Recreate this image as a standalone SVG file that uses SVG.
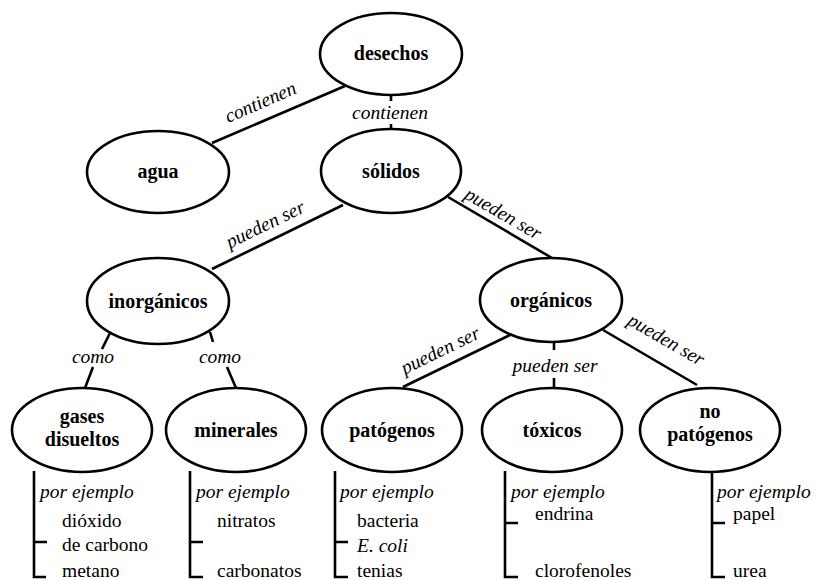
<svg xmlns="http://www.w3.org/2000/svg" width="823" height="580" viewBox="0 0 823 580">
<style>
.n ellipse{fill:#fff;stroke:#000;stroke-width:2.6}
.n text{font-family:"Liberation Serif",serif;font-weight:bold;font-size:20px;text-anchor:middle;fill:#000}
.c line,.c path{stroke:#000;stroke-width:2.6;fill:none}
.lb{font-family:"Liberation Serif",serif;font-style:italic;font-size:19.5px;fill:#000}
.ex{font-family:"Liberation Serif",serif;font-size:19.5px;fill:#000}
.mid{text-anchor:middle}
</style>
<rect width="823" height="580" fill="#fff"/>
<g class="c" id="connectors">
<line x1="345" y1="86" x2="212" y2="143"/>
<line x1="391" y1="95" x2="391" y2="101"/>
<line x1="391" y1="124" x2="391" y2="129"/>
<line x1="343" y1="205" x2="212" y2="269"/>
<line x1="448" y1="197" x2="552" y2="258"/>
<line x1="110" y1="333" x2="102" y2="349"/>
<line x1="93" y1="367" x2="85" y2="388"/>
<line x1="210" y1="332" x2="213" y2="342"/>
<line x1="227" y1="367" x2="236" y2="388"/>
<line x1="510" y1="335" x2="403" y2="387"/>
<line x1="554" y1="342" x2="554" y2="350"/>
<line x1="554" y1="378" x2="554" y2="388"/>
<line x1="603" y1="330" x2="697" y2="385"/>
<path d="M34 471 V577 H46 M34 542 H47"/>
<path d="M190 471 V577 H203 M190 542 H203"/>
<path d="M335 471 V577 H348 M335 542 H348"/>
<path d="M505 471 V577 H518 M505 523 H518"/>
<path d="M712 471 V577 H725 M712 523 H725"/>
<text class="lb mid" transform="translate(263,108) rotate(-23.5)">contienen</text>
<text class="lb mid" x="390" y="119">contienen</text>
<text class="lb mid" transform="translate(268,230) rotate(-26)">pueden ser</text>
<text class="lb mid" transform="translate(500,219) rotate(30)">pueden ser</text>
<text class="lb mid" x="93" y="363">como</text>
<text class="lb mid" x="220" y="363">como</text>
<text class="lb mid" transform="translate(443,356) rotate(-26)">pueden ser</text>
<text class="lb mid" x="555" y="372">pueden ser</text>
<text class="lb mid" transform="translate(663,345) rotate(30)">pueden ser</text>
</g>
<g class="n" id="desechos"><ellipse cx="391" cy="54" rx="71" ry="41"/><text x="391" y="60">desechos</text></g>
<g class="n" id="agua"><ellipse cx="158" cy="172" rx="71" ry="41"/><text x="158" y="178">agua</text></g>
<g class="n" id="solidos"><ellipse cx="391" cy="171" rx="70" ry="42"/><text x="391" y="178">sólidos</text></g>
<g class="n" id="inorganicos"><ellipse cx="158" cy="301" rx="71" ry="43"/><text x="158" y="308">inorgánicos</text></g>
<g class="n" id="organicos"><ellipse cx="551" cy="300" rx="71" ry="42"/><text x="551" y="307">orgánicos</text></g>
<g class="n" id="gases"><ellipse cx="82" cy="430" rx="70" ry="42"/><text x="82" y="423">gases</text><text x="82" y="446">disueltos</text></g>
<g class="n" id="minerales"><ellipse cx="236" cy="430" rx="70" ry="42"/><text x="236" y="437">minerales</text></g>
<g class="n" id="patogenos"><ellipse cx="392" cy="430" rx="70" ry="42"/><text x="392" y="437">patógenos</text></g>
<g class="n" id="toxicos"><ellipse cx="552" cy="430" rx="70" ry="42"/><text x="552" y="437">tóxicos</text></g>
<g class="n" id="nopatogenos"><ellipse cx="710" cy="430" rx="70" ry="42"/><text x="710" y="418">no</text><text x="710" y="441">patógenos</text></g>
<g id="examples">
<text class="lb" x="40" y="498">por ejemplo</text>
<text class="ex" x="62" y="527">dióxido</text>
<text class="ex" x="62" y="551">de carbono</text>
<text class="ex" x="62" y="577">metano</text>
<text class="lb" x="196" y="498">por ejemplo</text>
<text class="ex" x="217" y="527">nitratos</text>
<text class="ex" x="217" y="577">carbonatos</text>
<text class="lb" x="340" y="498">por ejemplo</text>
<text class="ex" x="357" y="527">bacteria</text>
<text class="lb" x="357" y="552">E. coli</text>
<text class="ex" x="357" y="577">tenias</text>
<text class="lb" x="511" y="498">por ejemplo</text>
<text class="ex" x="535" y="520">endrina</text>
<text class="ex" x="535" y="577">clorofenoles</text>
<text class="lb" x="717" y="498">por ejemplo</text>
<text class="ex" x="733" y="520">papel</text>
<text class="ex" x="733" y="577">urea</text>
</g>
</svg>
